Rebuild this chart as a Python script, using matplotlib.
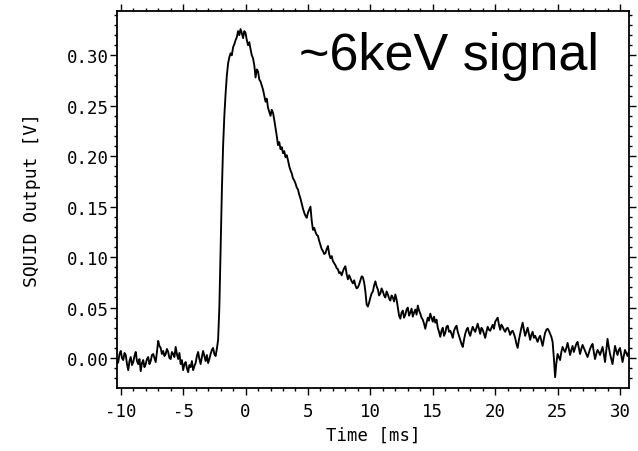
import numpy as np
import matplotlib
matplotlib.use("Agg")
import matplotlib.pyplot as plt
from matplotlib.ticker import MultipleLocator, FormatStrFormatter

# sampled trace: first sample time and spacing [ms]
t_start, t_step = -10.4, 0.1
# SQUID output [V], one row per millisecond (row start time in comment)
voltage = [
    0.002, -0.006, -0.004, 0.004, 0.007, 0.000, -0.002, 0.005, 0.003, -0.006,   # -10.4
    -0.012, -0.003, 0.001, -0.007, -0.004, 0.002, 0.006, -0.003, -0.006, -0.001,  # -9.4
    -0.013, -0.005, -0.002, -0.009, -0.006, -0.001, 0.001, -0.006, -0.003, 0.003,  # -8.4
    0.004, 0.000, -0.004, 0.006, 0.017, 0.012, 0.010, 0.004, 0.007, 0.002,         # -7.4
    0.004, 0.009, 0.006, 0.000, -0.001, 0.006, 0.004, 0.001, 0.011, 0.004,         # -6.4
    -0.001, 0.005, -0.006, -0.002, -0.012, -0.006, -0.004, -0.010, -0.014, -0.007, # -5.4
    -0.009, -0.003, -0.012, -0.008, -0.005, 0.002, 0.006, -0.001, -0.006, 0.001,   # -4.4
    0.007, 0.002, -0.003, 0.003, -0.005, -0.001, 0.004, 0.008, 0.010, 0.004,       # -3.4
    0.002, 0.009, 0.018, 0.050, 0.110, 0.165, 0.210, 0.240, 0.262, 0.280,          # -2.4
    0.292, 0.298, 0.302, 0.300, 0.308, 0.311, 0.315, 0.318, 0.324, 0.320,          # -1.4
    0.326, 0.322, 0.317, 0.324, 0.322, 0.315, 0.310, 0.313, 0.306, 0.300,          # -0.4
    0.297, 0.290, 0.278, 0.286, 0.284, 0.276, 0.274, 0.270, 0.266, 0.260,          # 0.6
    0.254, 0.257, 0.248, 0.244, 0.240, 0.246, 0.243, 0.236, 0.228, 0.220,          # 1.6
    0.211, 0.214, 0.207, 0.209, 0.203, 0.205, 0.199, 0.201, 0.196, 0.190,          # 2.6
    0.186, 0.183, 0.178, 0.176, 0.173, 0.169, 0.167, 0.162, 0.158, 0.153,          # 3.6
    0.148, 0.144, 0.141, 0.139, 0.144, 0.147, 0.150, 0.136, 0.127, 0.129,          # 4.6
    0.125, 0.122, 0.121, 0.116, 0.112, 0.108, 0.106, 0.103, 0.104, 0.108,          # 5.6
    0.111, 0.103, 0.099, 0.101, 0.096, 0.094, 0.092, 0.089, 0.088, 0.084,          # 6.6
    0.085, 0.082, 0.086, 0.089, 0.091, 0.083, 0.078, 0.082, 0.079, 0.076,          # 7.6
    0.074, 0.077, 0.072, 0.069, 0.070, 0.073, 0.077, 0.081, 0.080, 0.075,          # 8.6
    0.066, 0.053, 0.051, 0.055, 0.060, 0.064, 0.066, 0.072, 0.076, 0.071,          # 9.6
    0.068, 0.062, 0.064, 0.069, 0.066, 0.062, 0.060, 0.066, 0.063, 0.059,          # 10.6
    0.057, 0.062, 0.060, 0.056, 0.063, 0.058, 0.050, 0.042, 0.039, 0.045,          # 11.6
    0.047, 0.040, 0.043, 0.048, 0.050, 0.042, 0.045, 0.049, 0.041, 0.045,          # 12.6
    0.048, 0.043, 0.052, 0.047, 0.044, 0.040, 0.038, 0.034, 0.029, 0.035,          # 13.6
    0.040, 0.037, 0.044, 0.040, 0.036, 0.041, 0.035, 0.038, 0.030, 0.026,          # 14.6
    0.021, 0.027, 0.030, 0.022, 0.025, 0.031, 0.032, 0.026, 0.027, 0.024,          # 15.6
    0.020, 0.027, 0.030, 0.032, 0.026, 0.022, 0.018, 0.014, 0.011, 0.018,          # 16.6
    0.024, 0.028, 0.030, 0.025, 0.022, 0.027, 0.031, 0.028, 0.026, 0.030,          # 17.6
    0.034, 0.029, 0.024, 0.030, 0.028, 0.024, 0.020, 0.026, 0.031, 0.028,          # 18.6
    0.027, 0.030, 0.033, 0.029, 0.036, 0.038, 0.040, 0.033, 0.028, 0.033,          # 19.6
    0.031, 0.028, 0.026, 0.029, 0.030, 0.027, 0.023, 0.026, 0.027, 0.024,          # 20.6
    0.020, 0.014, 0.010, 0.018, 0.024, 0.030, 0.035, 0.028, 0.022, 0.026,          # 21.6
    0.030, 0.024, 0.018, 0.023, 0.026, 0.020, 0.022, 0.019, 0.016, 0.020,          # 22.6
    0.022, 0.017, 0.012, 0.019, 0.025, 0.028, 0.029, 0.027, 0.024, 0.021,          # 23.6
    0.016, 0.000, -0.019, -0.005, 0.004, 0.001, -0.002, 0.006, 0.011, 0.008,       # 24.6
    0.006, 0.010, 0.015, 0.009, 0.003, 0.008, 0.012, 0.006, 0.010, 0.014,          # 25.6
    0.016, 0.010, 0.004, 0.009, 0.013, 0.010, 0.007, 0.004, 0.001, 0.005,          # 26.6
    0.009, 0.012, 0.014, 0.006, -0.001, 0.004, 0.008, 0.006, 0.003, 0.007,         # 27.6
    0.011, 0.004, -0.004, 0.008, 0.019, 0.011, 0.004, -0.001, -0.006, 0.003,       # 28.6
    0.012, 0.007, 0.003, 0.008, 0.010, 0.003, -0.004, 0.002, 0.008, 0.005,         # 29.6
    0.002, 0.006, 0.005,                                                           # 30.6
]
time = t_start + t_step * np.arange(len(voltage))

x_ticks = [-10, -5, 0, 5, 10, 15, 20, 25, 30]
y_ticks = [0.00, 0.05, 0.10, 0.15, 0.20, 0.25, 0.30]
x_label = "Time [ms]"
y_label = "SQUID Output [V]"
annotation = "~6keV signal"

mono = "DejaVu Sans Mono"

fig = plt.figure(figsize=(6.38, 4.52), dpi=100)
ax = fig.add_axes([117/638, 1-389/452, (629-117)/638, (389-12)/452])
ax.plot(time, voltage, color="black", lw=1.35)
ax.set_xlim(-10.3, 30.72)
ax.set_ylim(-0.0297, 0.3439)

ax.set_xticks(x_ticks)
ax.set_yticks(y_ticks)
ax.xaxis.set_minor_locator(MultipleLocator(1))
ax.yaxis.set_minor_locator(MultipleLocator(0.01))
ax.yaxis.set_major_formatter(FormatStrFormatter("%.2f"))
ax.set_xticklabels(["%d" % v for v in x_ticks])

ax.tick_params(which="both", direction="out", top=True, right=True,
               width=1.0, labelsize=12.5)
ax.tick_params(which="major", length=5)
ax.tick_params(which="minor", length=2.5)
ax.tick_params(axis="x", which="major", pad=5)
ax.tick_params(axis="y", which="major", pad=0.5)
ax.tick_params(axis="x", which="both", labeltop=False)
ax.tick_params(axis="y", which="both", labelright=False)
for lab in ax.get_xticklabels() + ax.get_yticklabels():
    lab.set_family(mono)
for s in ax.spines.values():
    s.set_linewidth(1.3)

ax.set_xlabel(x_label, family=mono, fontsize=12.5, labelpad=4)
ax.set_ylabel(y_label, family=mono, fontsize=13, labelpad=19)

ax.text(0.356, 0.845, annotation, transform=ax.transAxes,
        family="Liberation Sans", fontsize=37.5, color="black")

fig.savefig("out.png", dpi=100)
